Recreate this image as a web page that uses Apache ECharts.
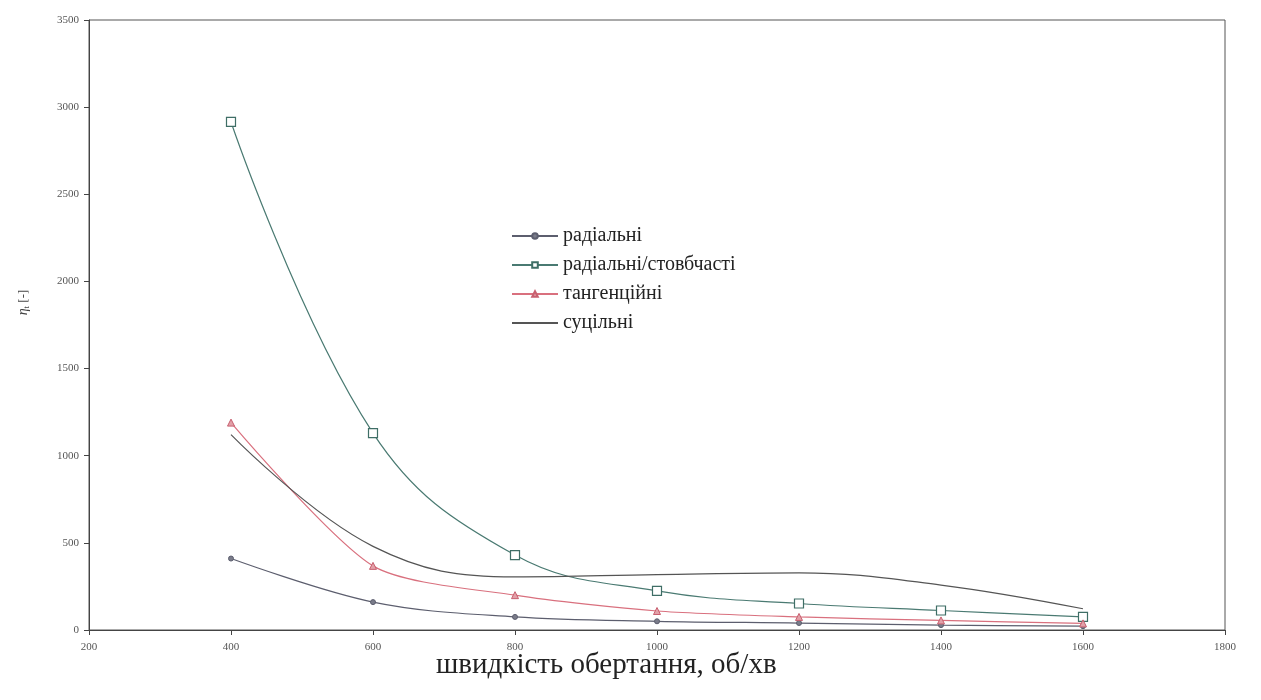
<!DOCTYPE html>
<html>
<head>
<meta charset="utf-8">
<script src="https://cdn.jsdelivr.net/npm/echarts@6/dist/echarts.min.js"></script>
<style>
  html, body { margin: 0; padding: 0; background: #fff; }
  #chart { width: 1261px; height: 700px; }
</style>
</head>
<body>
<div id="chart"></div>
<script>
// швидкість обертання, об/хв
var speeds = [400, 600, 800, 1000, 1200, 1400, 1600];

// значення для кожного типу
var radialni = [410, 160, 75, 50, 40, 28, 22];
var radialniStovb = [2915, 1130, 430, 224, 152, 112, 75];
var tangencijni = [1190, 368, 200, 109, 75, 55, 38];
var sucilni = [1121, 480, 305, 318, 328, 258, 122];

var seriesNames = ['радіальні', 'радіальні/стовбчасті', 'тангенційні', 'суцільні'];

function pairs(values) {
    return speeds.map(function (s, i) { return [s, values[i]]; });
}

var serif = 'Liberation Serif';
var chart = echarts.init(document.getElementById('chart'));

var option = {
    backgroundColor: '#fff',
    animation: false,
    title: {
        text: 'швидкість обертання, об/хв',
        left: 431,
        top: 646,
        textStyle: { fontFamily: serif, fontSize: 29, fontWeight: 'normal', color: '#222' }
    },
    legend: {
        orient: 'vertical',
        left: 506,
        top: 221,
        itemGap: 9,
        itemWidth: 46,
        itemHeight: 7,
        textStyle: { fontFamily: serif, fontSize: 20, color: '#222' },
        data: [
            { name: seriesNames[0] },
            { name: seriesNames[1] },
            { name: seriesNames[2] },
            { name: seriesNames[3], itemStyle: { opacity: 0 } }
        ]
    },
    grid: {
        left: 89, right: 36, top: 20, bottom: 70,
        show: true, borderColor: '#555', borderWidth: 1
    },
    xAxis: {
        type: 'value',
        min: 200, max: 1800, interval: 200,
        axisLine: { lineStyle: { color: '#444' } },
        axisTick: { inside: false, length: 5, lineStyle: { color: '#444' } },
        axisLabel: {
            fontFamily: serif, fontSize: 11, color: '#555', margin: 12,
            formatter: function (v) { return String(v); }
        },
        splitLine: { show: false }
    },
    yAxis: {
        type: 'value',
        min: 0, max: 3500, interval: 500,
        name: '{e|η}{s|t} [-]',
        nameLocation: 'middle',
        nameGap: 58,
        nameTextStyle: {
            fontFamily: serif, fontSize: 13, color: '#444',
            padding: [0, 0, 0, 45],
            rich: {
                e: { fontFamily: serif, fontSize: 14, fontStyle: 'italic', color: '#444' },
                s: { fontFamily: serif, fontSize: 9, color: '#444', verticalAlign: 'bottom', padding: [6, 0, 0, 0] }
            }
        },
        axisLine: { show: true, lineStyle: { color: '#444' } },
        axisTick: { show: true, length: 5, lineStyle: { color: '#444' } },
        axisLabel: {
            fontFamily: serif, fontSize: 11, color: '#555', margin: 10,
            formatter: function (v) { return String(v); }
        },
        splitLine: { show: false }
    },
    series: [
        {
            name: seriesNames[0], type: 'line', smooth: 0.35,
            data: pairs(radialni),
            symbol: 'circle', symbolSize: 5,
            lineStyle: { color: '#5c5e6e', width: 1.2 },
            itemStyle: { color: '#7a7c8a', borderColor: '#5c5e6e', borderWidth: 1 }
        },
        {
            name: seriesNames[1], type: 'line', smooth: 0.4,
            data: pairs(radialniStovb),
            symbol: 'rect', symbolSize: 9,
            lineStyle: { color: '#4a7a72', width: 1.2 },
            itemStyle: { color: '#fff', borderColor: '#3f6e66', borderWidth: 1.2 }
        },
        {
            name: seriesNames[2], type: 'line', smooth: 0.25,
            data: pairs(tangencijni),
            symbol: 'triangle', symbolSize: 7,
            lineStyle: { color: '#d9707e', width: 1.2 },
            itemStyle: { color: '#e2a0a8', borderColor: '#c86070', borderWidth: 1 }
        },
        {
            name: seriesNames[3], type: 'line', smooth: 0.4,
            data: pairs(sucilni),
            symbol: 'none',
            lineStyle: { color: '#555', width: 1.2 },
            itemStyle: { color: '#555' }
        }
    ]
};

chart.setOption(option);
</script>
</body>
</html>
